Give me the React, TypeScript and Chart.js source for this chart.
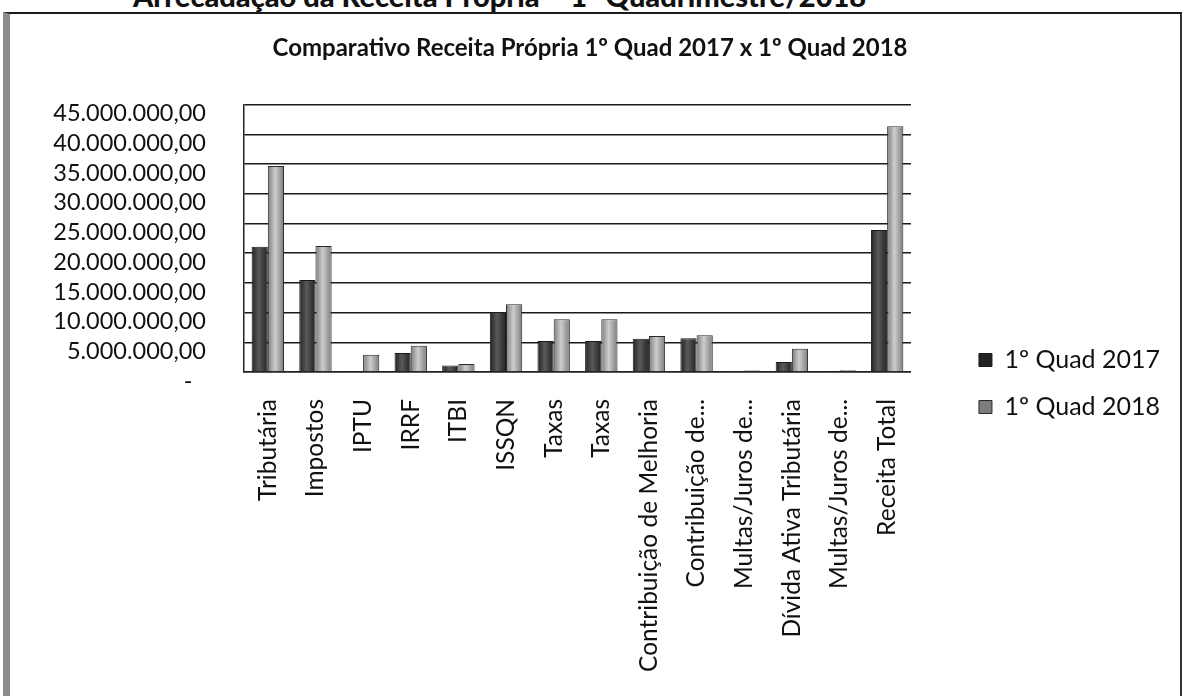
import React, { useEffect, useRef } from "react";
import { Chart, registerables } from "chart.js";

Chart.register(...registerables);

const categories = [
  "Tributária",
  "Impostos",
  "IPTU",
  "IRRF",
  "ITBI",
  "ISSQN",
  "Taxas",
  "Taxas",
  "Contribuição de Melhoria",
  "Contribuição de...",
  "Multas/Juros de...",
  "Dívida Ativa Tributária",
  "Multas/Juros de...",
  "Receita Total",
];

const quad2017 = [
  21100000, 15500000, 150000, 3200000, 1100000, 10100000, 5200000, 5200000,
  5600000, 5700000, 50000, 1700000, 150000, 23900000,
];

const quad2018 = [
  34700000, 21200000, 2900000, 4400000, 1350000, 11400000, 8900000, 8900000,
  6050000, 6200000, 250000, 3900000, 300000, 41400000,
];

const seriesNames = ["1º Quad 2017", "1º Quad 2018"];
const chartTitle = "Comparativo Receita Própria 1º Quad 2017 x 1º Quad 2018";
const pageHeading = "Arrecadação da Receita Própria – 1º Quadrimestre/2018";
const yMax = 45000000;
const yStep = 5000000;

const CAT_PCT = 0.68;

function fmtBR(v: number): string {
  if (v === 0) return "-\u2007";
  const s = v.toFixed(2);
  const [i, d] = s.split(".");
  return i.replace(/\B(?=(\d{3})+(?!\d))/g, ".") + "," + d;
}

// cylinder-like horizontal shading for each bar
function cylinder(base: string, edge: string, light: string, dsIndex: number) {
  return (ctx: any) => {
    if (!ctx || ctx.type !== "data") return base;
    const chart = ctx.chart;
    const xs = chart.scales && chart.scales.x;
    const area = chart.chartArea;
    if (!xs || !area) return base;
    const center = xs.getPixelForValue(ctx.dataIndex);
    const cat = (area.right - area.left) / categories.length;
    const bw = (cat * CAT_PCT) / 2;
    const left = center - (cat * CAT_PCT) / 2 + dsIndex * bw;
    const g = chart.ctx.createLinearGradient(left, 0, left + bw, 0);
    g.addColorStop(0, edge);
    g.addColorStop(0.45, light);
    g.addColorStop(1, edge);
    return g;
  };
}

const FONT = "Lato, 'Open Sans', sans-serif";
const W = 1184;
const H = 767;

export default function App() {
  const ref = useRef<HTMLCanvasElement | null>(null);

  useEffect(() => {
    if (!ref.current) return;
    const chart = new Chart(ref.current, {
      type: "bar",
      data: {
        labels: categories,
        datasets: [
          {
            label: seriesNames[0],
            data: quad2017,
            backgroundColor: cylinder("#3a3a3a", "#222222", "#5a5a5a", 0),
            borderColor: "#1a1a1a",
            borderWidth: 1,
            barPercentage: 1,
            categoryPercentage: CAT_PCT,
          },
          {
            label: seriesNames[1],
            data: quad2018,
            backgroundColor: cylinder("#a6a6a6", "#7c7c7c", "#cdcdcd", 1),
            borderColor: "#2a2a2a",
            borderWidth: 1,
            barPercentage: 1,
            categoryPercentage: CAT_PCT,
          },
        ],
      },
      options: {
        responsive: false,
        animation: false,
        layout: { padding: { left: 10, right: 14, top: 0, bottom: 0 } },
        plugins: {
          title: {
            display: true,
            text: chartTitle,
            color: "#111",
            font: { family: FONT, size: 24, weight: "bold" },
            padding: { top: 34, bottom: 42 },
          },
          legend: {
            display: true,
            position: "right",
            align: "center",
            maxWidth: 400,
            labels: {
              color: "#111",
              font: { family: FONT, size: 25 },
              boxWidth: 13,
              boxHeight: 13,
              padding: 22,
            },
          },
          tooltip: { enabled: false },
        },
        scales: {
          x: {
            grid: { display: false, drawTicks: false },
            border: { display: true, color: "#222", width: 1.5 },
            ticks: {
              autoSkip: false,
              minRotation: 90,
              maxRotation: 90,
              padding: 27,
              color: "#111",
              font: { family: FONT, size: 24.5 },
            },
            afterFit: (s: any) => {
              s.height = H - 372;
            },
          },
          y: {
            min: 0,
            max: yMax,
            grid: { color: "#1a1a1a", lineWidth: 1.5, drawTicks: false },
            border: { display: true, color: "#222", width: 1.5 },
            ticks: {
              stepSize: yStep,
              autoSkip: false,
              padding: 38,
              labelOffset: 9,
              color: "#111",
              font: { family: FONT, size: 23.5 },
              callback: (v: any) => fmtBR(Number(v)),
            },
            afterFit: (s: any) => {
              s.width = 234;
            },
          },
          y2: {
            type: "linear",
            position: "right",
            display: true,
            grid: { display: false, drawTicks: false },
            border: { display: false },
            ticks: { display: false },
            afterFit: (s: any) => {
              s.width = 46;
            },
          },
        },
      },
    } as any);
    return () => chart.destroy();
  }, []);

  return (
    <div
      style={{
        position: "fixed",
        left: 0,
        top: 0,
        width: W,
        height: 696,
        overflow: "hidden",
        background: "#fff",
      }}
    >
      <div
        style={{
          position: "absolute",
          left: 133,
          top: -19,
          fontFamily: FONT,
          fontWeight: 900,
          fontSize: 29,
          lineHeight: "29px",
          whiteSpace: "nowrap",
          color: "#111",
        }}
      >
        {pageHeading}
      </div>
      <div
        style={{
          position: "absolute",
          left: 3,
          top: 12,
          width: 1179,
          height: 720,
          borderTop: "2px solid #1b1b1b",
          borderLeft: "7px solid #8c8c8c",
          borderRight: "2px solid #333",
          boxSizing: "border-box",
        }}
      />
      <canvas
        ref={ref}
        width={W}
        height={H}
        style={{ position: "absolute", left: 0, top: 0, width: W, height: H }}
      />
    </div>
  );
}
